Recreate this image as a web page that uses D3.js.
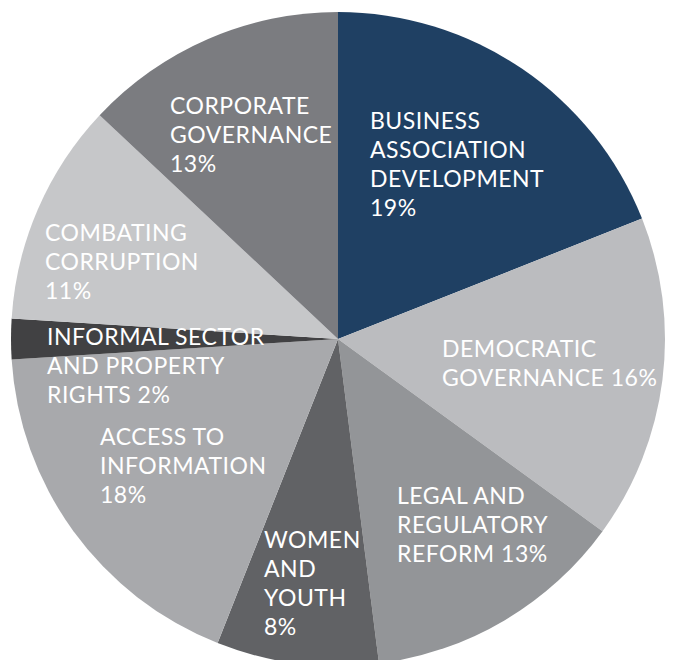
<!DOCTYPE html>
<html>
<head>
<meta charset="utf-8">
<script src="https://cdn.jsdelivr.net/npm/d3@7.9.0/dist/d3.min.js"></script>
<style>
  html, body { margin: 0; padding: 0; background: #fff; }
  svg { display: block; }
  .lbl { font-family: Lato, "Open Sans", sans-serif; font-size: 23px; letter-spacing: 0.5px; fill: #fff; }
</style>
</head>
<body>
<svg id="chart" width="675" height="660"></svg>
<script>
// --- data ---
const categories = [
  "Business Association Development",
  "Democratic Governance",
  "Legal and Regulatory Reform",
  "Women and Youth",
  "Access to Information",
  "Informal Sector and Property Rights",
  "Combating Corruption",
  "Corporate Governance"
];
const shares = [19, 16, 13, 8, 18, 2, 11, 13];
const labelLines = [
  ["BUSINESS", "ASSOCIATION", "DEVELOPMENT", "19%"],
  ["DEMOCRATIC", "GOVERNANCE 16%"],
  ["LEGAL AND", "REGULATORY", "REFORM 13%"],
  ["WOMEN", "AND", "YOUTH", "8%"],
  ["ACCESS TO", "INFORMATION", "18%"],
  ["INFORMAL SECTOR", "AND PROPERTY", "RIGHTS 2%"],
  ["COMBATING", "CORRUPTION", "11%"],
  ["CORPORATE", "GOVERNANCE", "13%"]
];

// --- styling / layout ---
const colors = ["#1f4063", "#bbbcbf", "#939598", "#616265", "#a8a9ac", "#414143", "#c6c7c9", "#7b7c80"];
const labelPos = [
  [370, 129], [442, 357], [397, 504], [264, 548],
  [100, 445], [47, 345], [45, 241], [170, 114]
];
const lineH = 29;
const cx = 338, cy = 339, radius = 327;

const data = categories.map((c, i) => ({ name: c, value: shares[i], lines: labelLines[i] }));

const svg = d3.select("#chart");
const g = svg.append("g").attr("transform", `translate(${cx},${cy})`);

const pie = d3.pie().value(d => d.value).sort(null);
const arc = d3.arc().innerRadius(0).outerRadius(radius);

g.selectAll("path")
  .data(pie(data))
  .join("path")
  .attr("d", arc)
  .attr("fill", (_, i) => colors[i]);

// labels
const labels = svg.append("g");
data.forEach((d, i) => {
  const t = labels.append("text")
    .attr("class", "lbl")
    .attr("x", labelPos[i][0])
    .attr("y", labelPos[i][1]);
  d.lines.forEach((line, j) => {
    t.append("tspan")
      .attr("x", labelPos[i][0])
      .attr("dy", j === 0 ? 0 : lineH)
      .text(line);
  });
});
</script>
</body>
</html>
